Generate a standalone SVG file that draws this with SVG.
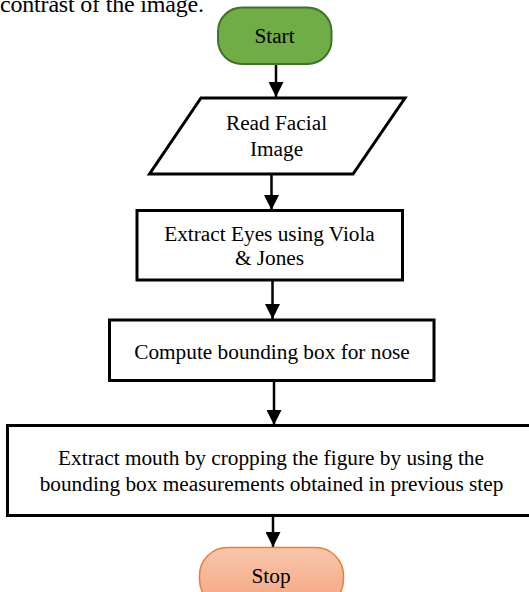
<svg xmlns="http://www.w3.org/2000/svg" width="529" height="592" viewBox="0 0 529 592">
<style>
.t{font-size:21.3px}
.box{fill:#fff;stroke:#000;stroke-width:3}
.conn{stroke:#000;stroke-width:2.5;fill:none}
</style>
<defs>
<marker id="arr" markerWidth="15" markerHeight="15" refX="15" refY="7.5" orient="auto" markerUnits="userSpaceOnUse">
<path d="M0,0 L15,7.5 L0,15 Z" fill="#000"/>
</marker>
<linearGradient id="stopg" x1="0" y1="0" x2="0" y2="1">
<stop offset="0" stop-color="#f8c5ab"/>
<stop offset="1" stop-color="#f4a582"/>
</linearGradient>
</defs>
<rect width="529" height="592" fill="#fff"/>
<g font-family="'Liberation Serif', 'Times New Roman', serif" text-anchor="middle" fill="#000">
<text x="0" y="12" font-size="24" text-anchor="start" textLength="204" lengthAdjust="spacing">contrast of the image.</text>
</g>
<g id="connectors">
<line class="conn" x1="276" y1="64" x2="276" y2="97" marker-end="url(#arr)"/>
<line class="conn" x1="271.5" y1="174" x2="271.5" y2="210" marker-end="url(#arr)"/>
<line class="conn" x1="272.5" y1="280" x2="272.5" y2="319" marker-end="url(#arr)"/>
<line class="conn" x1="274" y1="381" x2="274" y2="425" marker-end="url(#arr)"/>
<line class="conn" x1="273" y1="516" x2="273" y2="547" marker-end="url(#arr)"/>
</g>
<g id="start" font-family="'Liberation Serif', 'Times New Roman', serif" text-anchor="middle">
<rect x="218" y="7.5" width="113.5" height="56.5" rx="24" fill="#70ad47" stroke="#41712a" stroke-width="2"/>
<text class="t" x="274.5" y="43">Start</text>
</g>
<g id="read" font-family="'Liberation Serif', 'Times New Roman', serif" text-anchor="middle">
<polygon class="box" points="201,98 405,98 353,174 149.5,174"/>
<text class="t" x="276.5" y="130">Read Facial</text>
<text class="t" x="276.5" y="156">Image</text>
</g>
<g id="eyes" font-family="'Liberation Serif', 'Times New Roman', serif" text-anchor="middle">
<rect class="box" x="137" y="210.5" width="265.5" height="69.5"/>
<text class="t" x="269.5" y="241">Extract Eyes using Viola</text>
<text class="t" x="269.5" y="265">&amp; Jones</text>
</g>
<g id="nose" font-family="'Liberation Serif', 'Times New Roman', serif" text-anchor="middle">
<rect class="box" x="109.5" y="320" width="324.5" height="60.5"/>
<text class="t" x="272" y="358.5">Compute bounding box for nose</text>
</g>
<g id="mouth" font-family="'Liberation Serif', 'Times New Roman', serif" text-anchor="middle">
<rect class="box" x="7.5" y="425.5" width="530" height="90"/>
<text class="t" x="271" y="465">Extract mouth by cropping the figure by using the</text>
<text class="t" x="271.5" y="490.5">bounding box measurements obtained in previous step</text>
</g>
<g id="stop" font-family="'Liberation Serif', 'Times New Roman', serif" text-anchor="middle">
<rect x="199.5" y="547.5" width="144" height="60" rx="28" fill="url(#stopg)" stroke="#ed7d31" stroke-width="1.5"/>
<text class="t" x="271" y="583">Stop</text>
</g>
</svg>
